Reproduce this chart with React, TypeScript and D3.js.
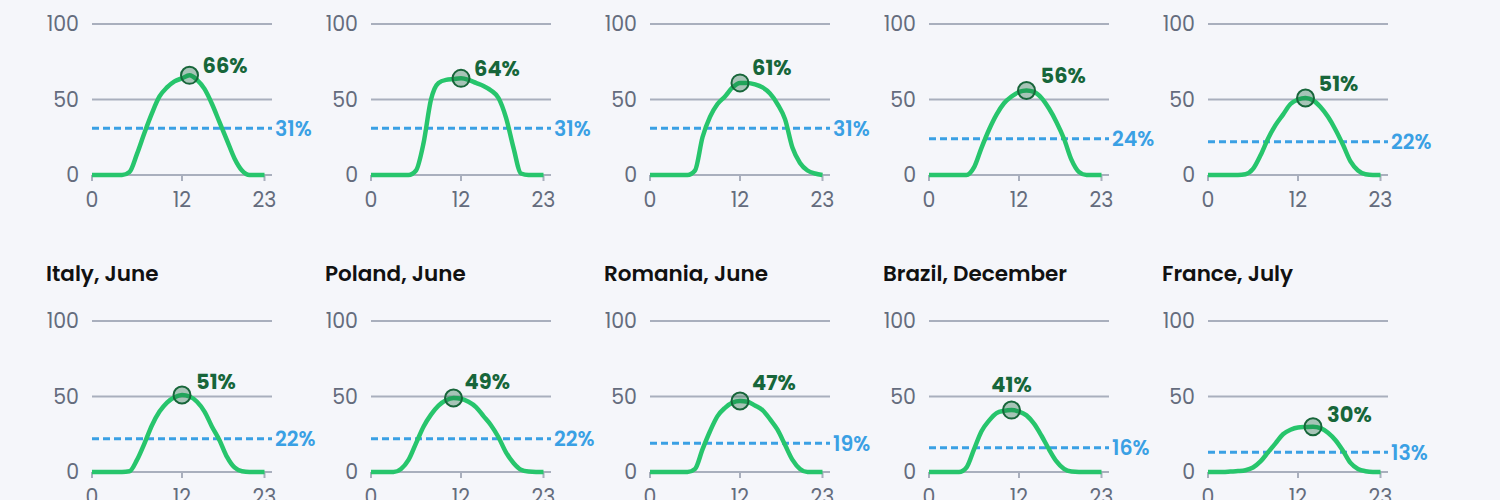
import React from "react";
import * as d3 from "d3";

const hours = d3.range(0, 24);

const titles = [
  "", "", "", "", "",
  "Italy, June", "Poland, June", "Romania, June", "Brazil, December", "France, July",
];

const peakValues = [66, 64, 61, 56, 51, 51, 49, 47, 41, 30];
const peakHours = [13, 12, 12, 13, 13, 12, 11, 12, 11, 14];
const averages = [31, 31, 31, 24, 22, 22, 22, 19, 16, 13];

const s0 = [0, 0, 0, 0, 0, 2, 14, 28, 41, 52, 58, 62, 64, 66, 63, 57, 47, 35, 23, 11, 3, 0, 0, 0];
const s1 = [0, 0, 0, 0, 0, 0, 3, 21, 50, 61, 63, 63.5, 64, 63, 61, 59, 56, 51, 38, 18, 1, 0, 0, 0];
const s2 = [0, 0, 0, 0, 0, 0, 3, 25, 38.5, 47, 52, 58, 61, 61, 60, 58, 54, 47, 37, 18, 8, 3, 1, 0];
const s3 = [0, 0, 0, 0, 0, 0, 5, 18, 30, 40, 47.5, 52, 55, 56, 55, 51, 44, 35, 24, 10, 2, 0, 0, 0];
const s4 = [0, 0, 0, 0, 0, 0.5, 4, 13, 24, 33, 40, 47, 50, 51, 49.5, 45, 38.5, 30, 20, 9, 3, 0.5, 0, 0];
const s5 = [0, 0, 0, 0, 0, 0.5, 8, 19, 31, 40, 46, 49.5, 51, 50, 46.5, 40, 30, 21, 10, 3, 0.5, 0, 0, 0];
const s6 = [0, 0, 0, 0, 2, 8, 19, 30, 38, 44, 47.5, 49, 48.5, 46.5, 43, 37, 31, 23, 13, 6, 1.5, 0.3, 0, 0];
const s7 = [0, 0, 0, 0, 0, 0, 2, 15, 27, 37, 42.5, 46, 47, 46.5, 44, 41, 35, 28, 18, 8, 2, 0, 0, 0];
const s8 = [0, 0, 0, 0, 0, 3, 15, 27, 34, 39, 40.5, 41, 40, 37.5, 32, 24, 15, 7, 2, 0.3, 0, 0, 0, 0];
const s9 = [0, 0, 0, 0.3, 0.6, 1.2, 3, 7, 13, 19, 25, 28, 29.5, 29.8, 30, 29, 26, 21, 14, 6, 2, 0.5, 0, 0];

const series = [s0, s1, s2, s3, s4, s5, s6, s7, s8, s9];

const yTicks = [0, 50, 100];
const xTicks = [0, 12, 23];

// layout (not data)
const W = 1500;
const H = 500;
const colStep = 279;
const rowStep = 297;
const firstPlotX = 92;
const firstPlotTop = 24;
const plotW = 180;
const plotH = 151;
const labelOffsets = [
  [13, -2], [13, -2], [12, -8], [14, -7], [13, -7],
  [14, -6], [11, -9], [12, -11], [0, -18], [14, -5],
];

const FONT = "Poppins, Inter, 'Noto Sans', sans-serif";
const GRID = "#a9afbd";
const TICK_TEXT = "#646c7d";
const GREEN = "#27c56c";
const DARK_GREEN = "#17663a";
const BLUE = "#3aa0e4";
const BG = "#f5f6fa";

function Panel({ i }: { i: number }) {
  const col = i % 5;
  const row = Math.floor(i / 5);
  const ox = firstPlotX + col * colStep;
  const oy = firstPlotTop + row * rowStep;
  const x = d3.scaleLinear().domain([0, 24]).range([0, plotW]);
  const y = d3.scaleLinear().domain([0, 100]).range([plotH, 0]);
  const data = series[i];
  const line = d3
    .line<number>()
    .x((_, k) => x(hours[k]))
    .y((d) => y(d))
    .curve(d3.curveMonotoneX);
  const px = x(peakHours[i]);
  const py = y(peakValues[i]);
  const [ldx, ldy] = labelOffsets[i];
  return (
    <g transform={`translate(${ox},${oy})`}>
      {titles[i] && (
        <text x={-46} y={-40} fontFamily={FONT} fontSize={21.5} fontWeight={600} fill="#111">
          {titles[i]}
        </text>
      )}
      {yTicks.map((t) => (
        <g key={t}>
          <line x1={0} x2={plotW} y1={y(t)} y2={y(t)} stroke={GRID} strokeWidth={2.2} />
          <text
            x={-13}
            y={y(t)}
            dy="0.36em"
            textAnchor="end"
            fontFamily={FONT}
            fontSize={20.5}
            fill={TICK_TEXT}
          >
            {t}
          </text>
        </g>
      ))}
      {xTicks.map((t) => (
        <g key={t}>
          <line x1={x(t)} x2={x(t)} y1={plotH} y2={plotH + 6} stroke={GRID} strokeWidth={2} />
          <text
            x={x(t)}
            y={plotH + 32}
            textAnchor="middle"
            fontFamily={FONT}
            fontSize={20.5}
            fill={TICK_TEXT}
          >
            {t}
          </text>
        </g>
      ))}
      <line
        x1={0}
        x2={plotW}
        y1={y(averages[i])}
        y2={y(averages[i])}
        stroke={BLUE}
        strokeWidth={3}
        strokeDasharray="7,4"
      />
      <text
        x={plotW + 3}
        y={y(averages[i])}
        dy="0.36em"
        fontFamily={FONT}
        fontSize={20.5}
        fontWeight={600}
        fill={BLUE}
      >
        {averages[i]}%
      </text>
      <path d={line(data) || ""} fill="none" stroke={GREEN} strokeWidth={4.5} strokeLinejoin="round" />
      <circle cx={px} cy={py} r={8.5} fill="rgba(23,102,58,0.35)" stroke={DARK_GREEN} strokeWidth={2} />
      <text
        x={px + ldx}
        y={py + ldy}
        textAnchor={ldx === 0 ? "middle" : "start"}
        fontFamily={FONT}
        fontSize={21}
        fontWeight={700}
        fill={DARK_GREEN}
      >
        {peakValues[i]}%
      </text>
    </g>
  );
}

export default function App() {
  return (
    <svg
      width={W}
      height={H}
      style={{ position: "absolute", left: 0, top: 0, display: "block" }}
    >
      <rect width={W} height={H} fill={BG} />
      {series.map((_, i) => (
        <Panel key={i} i={i} />
      ))}
    </svg>
  );
}
